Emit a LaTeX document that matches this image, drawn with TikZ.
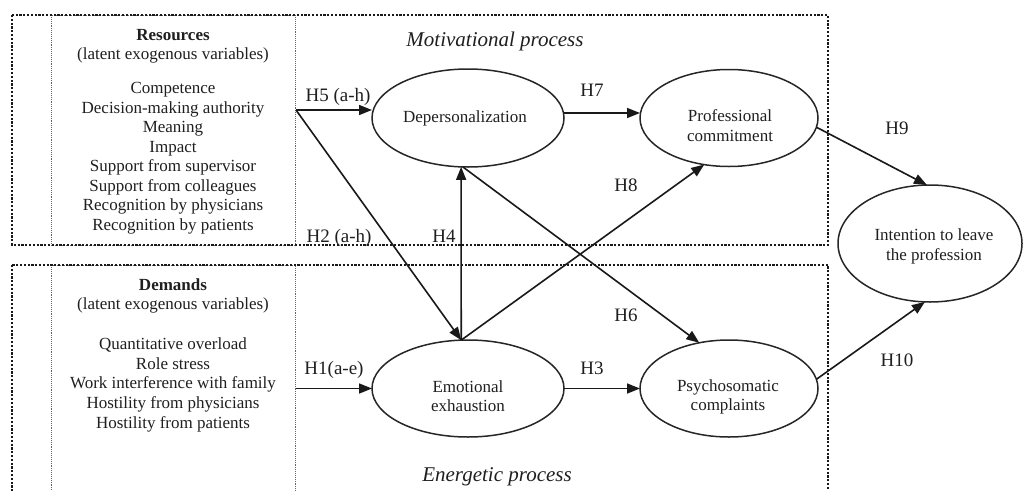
\documentclass[tikz,border=0pt]{standalone}
\usepackage{fontspec}
\setmainfont{Liberation Serif}
\usetikzlibrary{arrows.meta,shapes.geometric}

\begin{document}
\begin{tikzpicture}[x=1pt,y=-1pt,
  every node/.style={inner sep=0pt, outer sep=0pt, text=black!88},
  listtxt/.style={anchor=base, font=\fontsize{17}{20}\selectfont},
  hyp/.style={anchor=base, font=\fontsize{19}{22}\selectfont},
  proctitle/.style={anchor=base, font=\fontsize{21}{24}\selectfont\itshape},
  latent/.style={draw=black!85, ellipse, line width=1.5pt, inner sep=0pt},
  outerbox/.style={draw=black!90, line width=2.2pt, dash pattern=on 2.2pt off 1.6pt},
  innerbox/.style={draw=black!60, line width=0.7pt, dash pattern=on 0.7pt off 1.2pt},
  link/.style={draw=black!90, line width=1.6pt, -{Triangle[length=13pt,width=10pt]}}
]
\useasboundingbox (0,0) rectangle (1032,490);

% dotted frames of the two processes and the exogenous blocks
\begin{scope}
  \clip (0,0) rectangle (1032,490);
  \draw[innerbox] (51,15) rectangle (295,245);
  \draw[innerbox] (51,265) rectangle (295,520);
  \draw[outerbox] (12,15) rectangle (828,245);
  \draw[outerbox] (12,265) rectangle (828,520);
\end{scope}

% resources block
\node[listtxt] (reshead) at (173,40.5) {\bfseries Resources};
\node[listtxt] (reslat) at (173,59.5) {(latent exogenous variables)};
\foreach \t [count=\i from 0] in {Competence, Decision-making authority, Meaning, Impact,
    Support from supervisor, Support from colleagues, Recognition by physicians,
    Recognition by patients}
  \node[listtxt] (res\i) at (173,{93.5+19.5*\i}) {\t};

% demands block
\node[listtxt] (demhead) at (173,290.5) {\bfseries Demands};
\node[listtxt] (demlat) at (173,309.5) {(latent exogenous variables)};
\foreach \t [count=\i from 0] in {Quantitative overload, Role stress,
    Work interference with family, Hostility from physicians, Hostility from patients}
  \node[listtxt] (dem\i) at (173,{349.5+19.7*\i}) {\t};

% process titles
\node[proctitle] (motiv) at (495,46) {Motivational process};
\node[proctitle] (energ) at (497,481) {Energetic process};

% latent endogenous variables
\node[latent, minimum width=192pt, minimum height=98pt] (dep) at (468,118) {};
\node[latent, minimum width=178pt, minimum height=97pt] (com) at (729,118) {};
\node[latent, minimum width=192pt, minimum height=97pt] (exh) at (468,388.5) {};
\node[latent, minimum width=178pt, minimum height=97pt] (psy) at (729,388.5) {};
\node[latent, minimum width=184pt, minimum height=117pt] (int) at (930,243.5) {};

\node[listtxt] (deptxt) at (465,122) {Depersonalization};
\node[listtxt] (comtxt1) at (730,121) {Professional};
\node[listtxt] (comtxt2) at (730,141) {commitment};
\node[listtxt] (exhtxt1) at (468,392) {Emotional};
\node[listtxt] (exhtxt2) at (468,411) {exhaustion};
\node[listtxt] (psytxt1) at (728,391) {Psychosomatic};
\node[listtxt] (psytxt2) at (728,410) {complaints};
\node[listtxt] (inttxt1) at (934,240) {Intention to leave};
\node[listtxt] (inttxt2) at (934,260) {the profession};

% exits of the exogenous blocks
\coordinate (rsrc) at (296,110);
\coordinate (dmnd) at (296,388.5);

% hypothesised paths
\draw[link] (rsrc) -- (dep.west |- rsrc);
\draw[link] (rsrc) -- (exh.98);
\draw[link] (dmnd) -- (exh.west);
\draw[link] (exh.98) -- (dep.262);
\draw[link] (dep.3) -- (com.west |- dep.3);
\draw[link] (exh.east) -- (psy.west);
\draw[link] (dep.264) -- (psy.123);
\draw[link] (exh.98) -- (com.242);
\draw[link] (com.-6) -- (int.93);
\draw[link] (psy.6) -- (int.265);

% hypothesis labels
\node[hyp] (h5) at (338,101) {H5 (a-h)};
\node[hyp] (h2) at (339,242) {H2 (a-h)};
\node[hyp] (h4) at (444,242) {H4};
\node[hyp] (h1) at (334,374) {H1(a-e)};
\node[hyp] (h7) at (592,96) {H7};
\node[hyp] (h8) at (626,191) {H8};
\node[hyp] (h6) at (626,321) {H6};
\node[hyp] (h3) at (592,374) {H3};
\node[hyp] (h9) at (897,134) {H9};
\node[hyp] (h10) at (897,366) {H10};
\end{tikzpicture}
\end{document}
